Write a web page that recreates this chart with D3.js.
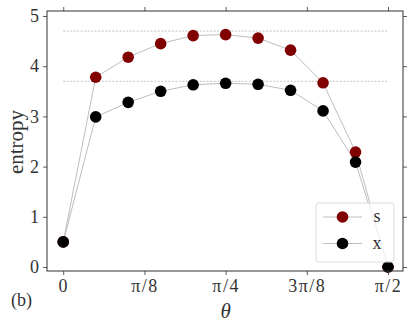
<!DOCTYPE html>
<html><head><meta charset="utf-8">
<script src="https://cdn.jsdelivr.net/npm/d3@7"></script>
<style>body{margin:0;background:#fff}</style>
</head><body>
<script>
const kSteps = [0,1,2,3,4,5,6,7,8,9,10];
const sValues = [0.5,3.78,4.18,4.45,4.61,4.63,4.56,4.32,3.67,2.29,0.0];
const xValues = [0.5,2.99,3.28,3.50,3.63,3.66,3.64,3.52,3.11,2.09,0.0];
const refLines = [4.70,3.70];
const xTickVals = [0, Math.PI/8, Math.PI/4, 3*Math.PI/8, Math.PI/2];
const xTickLabels = ["0","π/8","π/4","3π/8","π/2"];
const yTickVals = [0,1,2,3,4,5];
const seriesNames = ["s","x"];
const seriesColors = ["#800000","#000000"];

const W=415,H=329;
const L=47,R=403,T=11,B=271;
const svg=d3.select("body").append("svg").attr("width",W).attr("height",H);
const theta = kSteps.map(k=>k*Math.PI/20);
const x=d3.scaleLinear().domain([-0.0785,Math.PI/2+0.0725]).range([L,R]);
const y=d3.scaleLinear().domain([-0.08,5.1]).range([B,T]);
const font="'Liberation Serif','DejaVu Serif',serif";
const tc="#333";

// reference dashed lines
svg.selectAll("line.ref").data(refLines).enter().append("line")
  .attr("x1",x(0)).attr("x2",x(Math.PI/2))
  .attr("y1",d=>y(d)).attr("y2",d=>y(d))
  .attr("stroke","#999").attr("stroke-width",0.6).attr("stroke-dasharray","2,1.5");

const line=d3.line().x((d,i)=>x(theta[i])).y(d=>y(d));
const data=[sValues,xValues];
data.forEach((vals,si)=>{
  svg.append("path").datum(vals).attr("d",line).attr("fill","none")
    .attr("stroke","#bdbdbd").attr("stroke-width",1);
});
data.forEach((vals,si)=>{
  svg.selectAll("circle.s"+si).data(vals).enter().append("circle")
    .attr("cx",(d,i)=>x(theta[i])).attr("cy",d=>y(d)).attr("r",5.8)
    .attr("fill",seriesColors[si]);
});

// axes
const ax=svg.append("g").attr("class","axes");
const tl=4;
function style(g){
  g.select(".domain").remove();
  g.selectAll(".tick line").attr("stroke",tc).attr("stroke-width",0.8);
  g.selectAll(".tick text").attr("fill",tc).attr("font-family",font).attr("font-size",18);
}
const gb=ax.append("g").attr("transform",`translate(0,${B})`)
  .call(d3.axisBottom(x).tickValues(xTickVals).tickFormat((d,i)=>xTickLabels[i]).tickSize(tl).tickPadding(4));
style(gb);
gb.selectAll(".tick text").attr("letter-spacing",1.5);
const gt=ax.append("g").attr("transform",`translate(0,${T})`)
  .call(d3.axisTop(x).tickValues(xTickVals).tickFormat("").tickSize(tl));
style(gt);
const gl=ax.append("g").attr("transform",`translate(${L},0)`)
  .call(d3.axisLeft(y).tickValues(yTickVals).tickFormat(d3.format("d")).tickSize(tl).tickPadding(4));
style(gl);
const gr=ax.append("g").attr("transform",`translate(${R},0)`)
  .call(d3.axisRight(y).tickValues(yTickVals).tickFormat("").tickSize(tl));
style(gr);
svg.append("rect").attr("x",L).attr("y",T).attr("width",R-L).attr("height",B-T)
  .attr("fill","none").attr("stroke",tc).attr("stroke-width",1);

// labels
svg.append("text").attr("transform",`translate(23,${(T+B)/2+1}) rotate(-90)`)
  .attr("text-anchor","middle").attr("font-family",font).attr("font-size",21).attr("fill",tc).text("entropy");
svg.append("text").attr("x",x(Math.PI/4)).attr("y",318).attr("text-anchor","middle")
  .attr("font-family",font).attr("font-style","italic").attr("font-size",21).attr("fill",tc).text("θ");
svg.append("text").attr("x",11).attr("y",306).attr("font-family",font).attr("font-size",18).attr("fill",tc).text("(b)");

// legend
const lg=svg.append("g");
lg.append("rect").attr("x",316).attr("y",203).attr("width",78).attr("height",59).attr("rx",3)
  .attr("fill","#fff").attr("fill-opacity",0.8).attr("stroke","#ddd").attr("stroke-width",1);
seriesNames.forEach((n,i)=>{
  const yy=217+i*26.5;
  lg.append("line").attr("x1",323).attr("x2",362).attr("y1",yy).attr("y2",yy).attr("stroke","#bdbdbd").attr("stroke-width",1);
  lg.append("circle").attr("cx",342.5).attr("cy",yy).attr("r",5.8).attr("fill",seriesColors[i]);
  lg.append("text").attr("x",377).attr("y",yy+5).attr("text-anchor","middle").attr("font-family",font)
    .attr("font-size",18).attr("fill",tc).text(n);
});
</script>
</body></html>
